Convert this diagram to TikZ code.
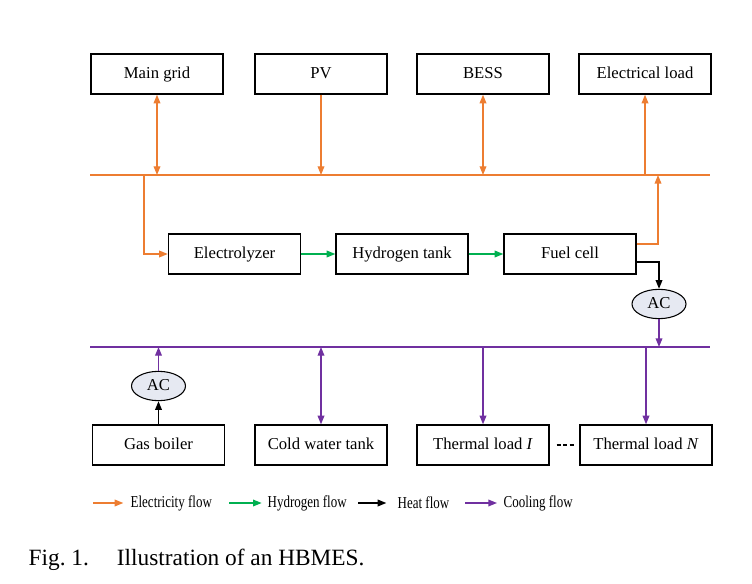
\documentclass[tikz,border=0pt]{standalone}
\usepackage{fontspec}
\setmainfont{Liberation Serif}
\usetikzlibrary{arrows.meta,shapes.geometric}
\definecolor{elec}{HTML}{ED7D31}
\definecolor{hydro}{HTML}{00B050}
\definecolor{cool}{HTML}{7030A0}
\definecolor{acfill}{HTML}{E6E9F2}
\begin{document}
\begin{tikzpicture}[x=0.75pt, y=-0.75pt, >={Triangle[length=6.5pt,width=5pt]}, line width=1pt]
\useasboundingbox (0,0) rectangle (752,584);
\tikzstyle{every node} = [font=\fontsize{12.5}{15}\selectfont]
\tikzstyle{unit} = [draw, line width=1pt, minimum width=99pt, minimum height=30pt, inner sep=0pt, text height=0.66em, text depth=0pt]
\tikzstyle{conv} = [draw, ellipse, fill=acfill, line width=0.8pt, minimum width=40.5pt, minimum height=22pt, inner sep=0pt, text height=0.66em, text depth=0pt]
\tikzstyle{bus} = [line width=2pt]
\tikzstyle{legend} = [anchor=west, inner sep=0pt, font=\fontsize{12.5}{14}\selectfont]
\node[unit] (grid) at (157,74) {Main grid};
\node[unit] (pv) at (321,74) {PV};
\node[unit] (bess) at (483,74) {BESS};
\node[unit] (eload) at (645,74) {Electrical load};
\node[unit] (ely) at (234.5,254) {Electrolyzer};
\node[unit] (h2tank) at (402,254) {Hydrogen tank};
\node[unit] (fc) at (570,254) {Fuel cell};
\node[conv] (ac1) at (659,304) {AC};
\node[conv] (ac2) at (158.5,386) {AC};
\node[unit] (boiler) at (158.5,445) {Gas boiler};
\node[unit] (cwt) at (321,445) {Cold water tank};
\node[unit] (tl1) at (483,445) {Thermal load \textit{I}};
\node[unit] (tln) at (646,445) {Thermal load \textit{N}};
% buses
\coordinate (ebus) at (90,175);
\coordinate (ebusR) at (710,175);
\coordinate (cbus) at (90,347);
\coordinate (cbusR) at (710,347);
\coordinate (tap) at (144,175);
\coordinate (fcout) at (658,175);
\draw[bus, elec] (ebus) -- (ebusR);
\draw[bus, cool] (cbus) -- (cbusR);
% electricity
\draw[<->, elec] (grid) -- (grid |- ebus);
\draw[->, elec] (pv) -- (pv |- ebus);
\draw[<->, elec] (bess) -- (bess |- ebus);
\draw[->, elec] (eload |- ebus) -- (eload);
\draw[->, elec] (tap) |- (ely);
\draw[->, elec] ([yshift=7.5pt]fc.east) -| (fcout);
% hydrogen and heat
\foreach \from/\to in {ely/h2tank, h2tank/fc}
\draw[->, hydro] (\from) -- (\to);
\draw[->] ([yshift=-6pt]fc.east) -| (ac1);
\draw[->] (boiler) -- (ac2);
% cooling
\draw[->, cool] (ac1) -- (ac1 |- cbus);
\draw[->, cool] (ac2) -- (ac2 |- cbus);
\draw[<->, cool] (cwt) -- (cwt |- cbus);
\foreach \to in {tl1, tln}
\draw[->, cool] (\to |- cbus) -- (\to);
\draw[line width=1.4pt, dash pattern=on 3pt off 1.9pt, shorten <=5.25pt, shorten >=3.75pt] (tl1) -- (tln);
% legend
\coordinate (lg1) at (93,503);
\coordinate (lg2) at (229,503);
\coordinate (lg3) at (358,503);
\coordinate (lg4) at (465,503);
\node[legend] (lge) at (130,503) {\scalebox{0.78}[1]{Electricity flow}};
\node[legend] (lgh) at (267,503) {\scalebox{0.78}[1]{Hydrogen flow}};
\node[legend] (lgq) at (397,503) {\scalebox{0.78}[1]{Heat flow}};
\node[legend] (lgc) at (503,503) {\scalebox{0.78}[1]{Cooling flow}};
\draw[->, elec, shorten >=5pt] (lg1) -- (lge);
\draw[->, hydro, shorten >=4pt] (lg2) -- (lgh);
\draw[->, shorten >=8pt] (lg3) -- (lgq);
\draw[->, cool, shorten >=4.5pt] (lg4) -- (lgc);
\node[anchor=base west, inner sep=0pt, font=\fontsize{17.5}{20}\selectfont] (cap) at (28,565) {Fig.~1.\hspace{21pt}Illustration of an HBMES.};
\end{tikzpicture}
\end{document}
